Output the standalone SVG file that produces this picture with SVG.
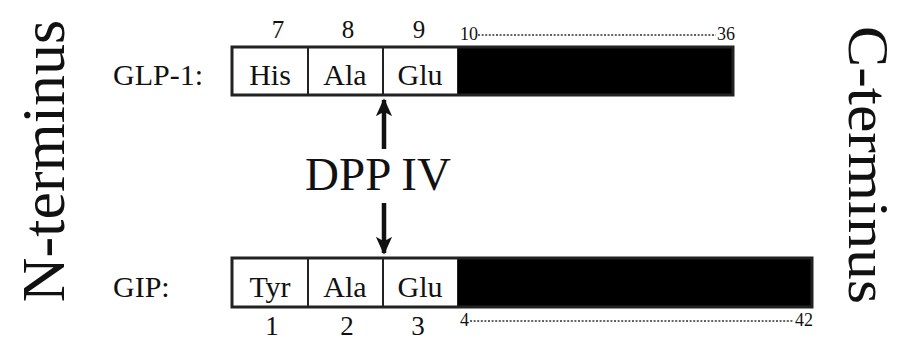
<svg xmlns="http://www.w3.org/2000/svg" width="901" height="341" viewBox="0 0 901 341">
  <style>
    text { font-family: "Liberation Serif", "Times New Roman", serif; fill: #111; }
    .res { font-size: 30px; text-anchor: middle; }
    .lbl { font-size: 30px; }
    .num { font-size: 25px; text-anchor: middle; }
    .numb { font-size: 27px; text-anchor: middle; }
    .small { font-size: 18px; }
    .term { font-size: 62px; text-anchor: middle; }
    .cell { fill: #fff; stroke: #222; stroke-width: 2; }
    .frame { fill: none; stroke: #222; stroke-width: 3; }
    .tail { fill: #000; }
    .dots { stroke: #333; stroke-width: 1.6; stroke-dasharray: 2 1.6; fill: none; }
    .arrow { stroke: #111; stroke-width: 4.5; fill: none; }
  </style>
  <defs>
    <marker id="head" viewBox="0 0 10 10" refX="9" refY="5" markerWidth="4" markerHeight="4" orient="auto">
      <path d="M0,0.5 L10,5 L0,9.5 L2.5,5 Z" fill="#111"/>
    </marker>
  </defs>

  <rect width="901" height="341" fill="#fff"/>

  <!-- terminus labels -->
  <g id="n-terminus">
    <text class="term" transform="translate(64,161) rotate(-90)">N-terminus</text>
  </g>
  <g id="c-terminus">
    <text class="term" style="font-size:58px" textLength="278" lengthAdjust="spacingAndGlyphs" transform="translate(849,165) rotate(90)">C-terminus</text>
  </g>

  <!-- GLP-1 peptide -->
  <g id="glp1">
    <text class="lbl" x="113" y="85">GLP-1:</text>
    <rect class="cell" x="232" y="47" width="76" height="48"/>
    <rect class="cell" x="308" y="47" width="75" height="48"/>
    <rect class="cell" x="383" y="47" width="75" height="48"/>
    <rect class="tail" x="458" y="47" width="275" height="48"/>
    <rect class="frame" x="232" y="47" width="501" height="48"/>
    <text class="res" x="270" y="85">His</text>
    <text class="res" x="345" y="85">Ala</text>
    <text class="res" x="420" y="85">Glu</text>
    <text class="num" x="278" y="38">7</text>
    <text class="num" x="348" y="38">8</text>
    <text class="num" x="419" y="38">9</text>
    <text class="small" x="460" y="40">10</text>
    <text class="small" x="717" y="40">36</text>
  </g>

  <!-- GIP peptide -->
  <g id="gip">
    <text class="lbl" x="113" y="297">GIP:</text>
    <rect class="cell" x="232" y="258" width="76" height="49"/>
    <rect class="cell" x="308" y="258" width="75" height="49"/>
    <rect class="cell" x="383" y="258" width="75" height="49"/>
    <rect class="tail" x="458" y="258" width="354" height="49"/>
    <rect class="frame" x="232" y="258" width="580" height="49"/>
    <text class="res" x="270" y="297">Tyr</text>
    <text class="res" x="345" y="297">Ala</text>
    <text class="res" x="420" y="297">Glu</text>
    <text class="numb" x="272" y="335">1</text>
    <text class="numb" x="347" y="335">2</text>
    <text class="numb" x="418" y="335">3</text>
    <text class="small" x="460" y="326">4</text>
    <text class="small" x="795" y="326">42</text>
  </g>

  <!-- enzyme label -->
  <g id="dpp-iv">
    <text x="378" y="190" font-size="47" text-anchor="middle">DPP IV</text>
  </g>

  <!-- residue ranges and cleavage arrows -->
  <g id="connectors">
    <line class="dots" x1="478" y1="35" x2="716" y2="35"/>
    <line class="dots" x1="470" y1="321" x2="794" y2="321"/>
    <line class="arrow" x1="384" y1="149" x2="384" y2="100" marker-end="url(#head)"/>
    <line class="arrow" x1="384" y1="203" x2="384" y2="253" marker-end="url(#head)"/>
  </g>
</svg>
